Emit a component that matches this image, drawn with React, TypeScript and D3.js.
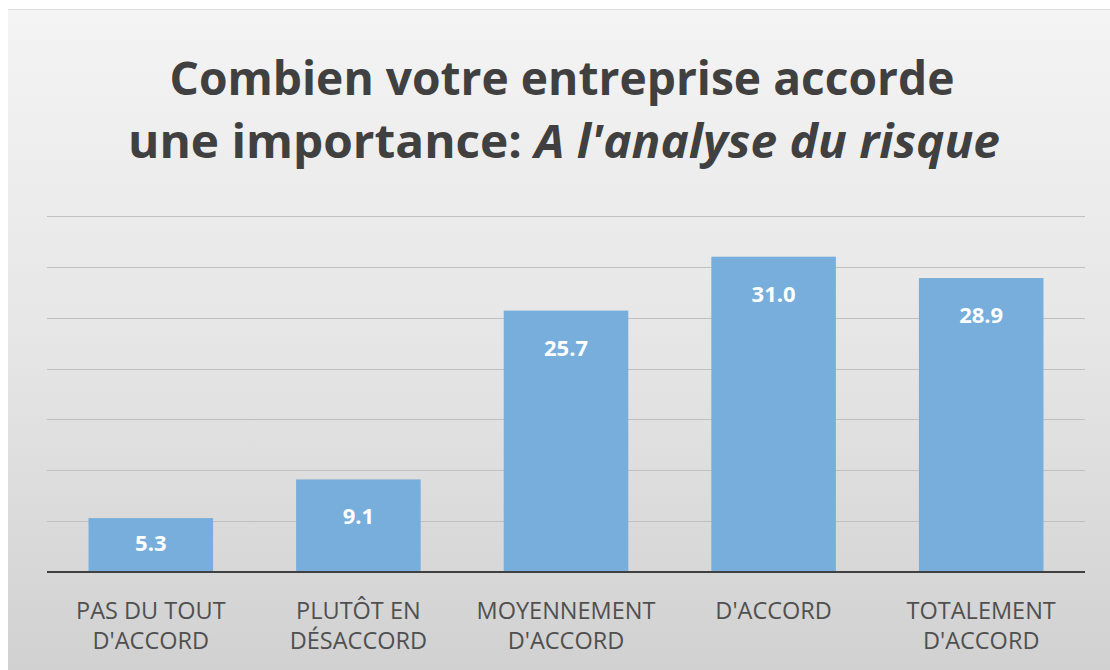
import React from "react";
import * as d3 from "d3";

const categories = [
  ["PAS DU TOUT", "D'ACCORD"],
  ["PLUTÔT EN", "DÉSACCORD"],
  ["MOYENNEMENT", "D'ACCORD"],
  ["D'ACCORD"],
  ["TOTALEMENT", "D'ACCORD"],
];
const values = [5.3, 9.1, 25.7, 31.0, 28.9];
const gridTicks = [5, 10, 15, 20, 25, 30, 35];
const titleLine1 = "Combien votre entreprise accorde";
const titleLine2a = "une importance: ";
const titleLine2b = "A l'analyse du risque";

export default function App() {
  const W = 1110;
  const H = 670;
  const x = d3
    .scaleBand<number>()
    .domain(values.map((_, i) => i))
    .range([47, 1085])
    .paddingInner(0.4)
    .paddingOuter(0.2);
  const y = d3.scaleLinear().domain([0, 35]).range([572, 216]);
  const font = "'Open Sans', 'DejaVu Sans', sans-serif";

  return (
    <svg
      width={W}
      height={H}
      style={{ position: "absolute", left: 0, top: 0, display: "block" }}
    >
      <defs>
        <linearGradient id="bg" x1="0" y1="0" x2="0" y2="1">
          <stop offset="0" stopColor="#f4f4f4" />
          <stop offset="0.5" stopColor="#e6e6e6" />
          <stop offset="1" stopColor="#d1d1d1" />
        </linearGradient>
      </defs>
      <rect x={0} y={0} width={W} height={H} fill="#ffffff" />
      <rect x={8} y={9} width={W - 8} height={H - 9} fill="url(#bg)" />
      <line x1={8} x2={W} y1={9.5} y2={9.5} stroke="#dcdcdc" strokeWidth={1} />

      <g fontFamily={font} fontWeight={700} fill="#404040" textAnchor="middle">
        <text x={562} y={95} fontSize={46} textLength={785} lengthAdjust="spacingAndGlyphs">
          {titleLine1}
        </text>
        <text x={564} y={158} fontSize={46} textLength={872} lengthAdjust="spacingAndGlyphs">
          {titleLine2a}
          <tspan fontStyle="italic">{titleLine2b}</tspan>
        </text>
      </g>

      {gridTicks.map((t) => (
        <line
          key={t}
          x1={47}
          x2={1085}
          y1={Math.round(y(t)) + 0.5}
          y2={Math.round(y(t)) + 0.5}
          stroke="#c0c0c0"
          strokeWidth={1}
        />
      ))}

      {values.map((v, i) => {
        const bx = x(i)!;
        const top = y(v);
        const h = y(0) - top;
        const ly = Math.min(top + 45, top + h / 2 + 6);
        return (
          <g key={i}>
            <rect x={bx} y={top} width={x.bandwidth()} height={h} fill="#78aedb" />
            <text
              x={bx + x.bandwidth() / 2}
              y={ly}
              textAnchor="middle"
              fontFamily={font}
              fontWeight={700}
              fontSize={22}
              fill="#ffffff"
            >
              {v.toFixed(1)}
            </text>
          </g>
        );
      })}

      <line x1={47} x2={1085} y1={572} y2={572} stroke="#404040" strokeWidth={2} />

      {categories.map((lines, i) => (
        <text
          key={i}
          x={x(i)! + x.bandwidth() / 2}
          textAnchor="middle"
          fontFamily={font}
          fontSize={23.5}
          fill="#505050"
        >
          {lines.map((l, j) => (
            <tspan key={j} x={x(i)! + x.bandwidth() / 2} y={619 + j * 30}>
              {l}
            </tspan>
          ))}
        </text>
      ))}
    </svg>
  );
}
